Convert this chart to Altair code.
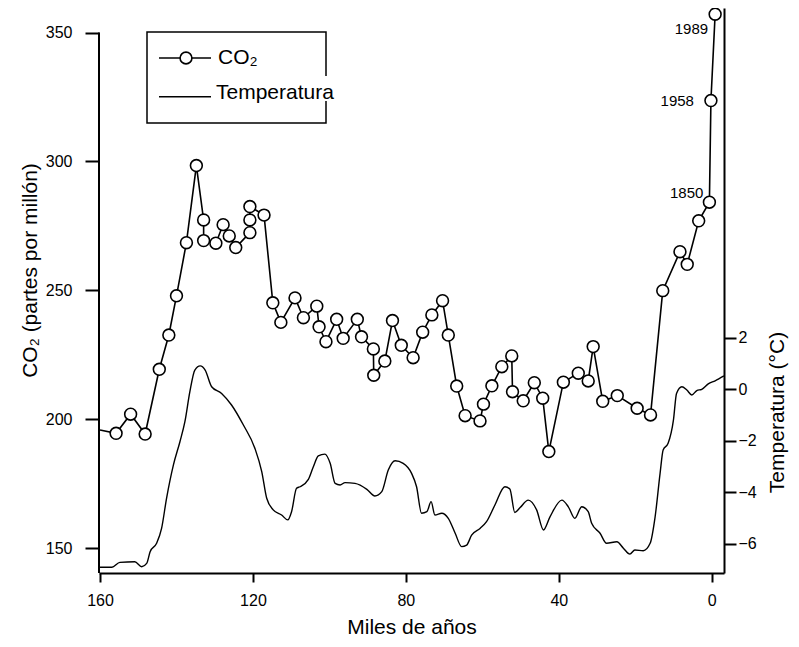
import altair as alt
import pandas as pd

# ---------------- data ----------------
co2_kyr = [160.0, 155.8, 152.0, 148.2, 144.5, 142.0, 140.0, 137.4, 134.8, 132.9,
           132.9, 129.7, 127.8, 126.2, 124.5, 120.8, 120.8, 120.8, 117.1, 114.8,
           112.7, 109.0, 106.8, 103.3, 102.7, 100.9, 98.1, 96.4, 92.7, 91.6,
           88.5, 88.4, 85.5, 83.5, 81.2, 78.1, 75.6, 73.2, 70.4, 68.9,
           66.7, 64.5, 60.6, 59.7, 57.5, 54.9, 52.3, 52.1, 49.3, 46.4,
           44.2, 42.6, 38.8, 34.9, 32.3, 31.0, 28.5, 24.7, 19.5, 16.0,
           12.8, 8.3, 6.4, 3.4, 0.6, 0.2, -0.9]
co2_ppm = [195.9, 194.6, 202.0, 194.3, 219.4, 232.7, 247.9, 268.5, 298.4, 277.3,
           269.3, 268.3, 275.5, 271.1, 266.6, 272.4, 277.3, 282.5, 279.2, 245.2,
           237.6, 247.1, 239.4, 243.9, 235.9, 230.1, 238.8, 231.4, 238.8, 232.0,
           227.3, 217.1, 222.6, 238.3, 228.7, 223.9, 233.8, 240.5, 246.0, 232.7,
           212.9, 201.4, 199.4, 205.9, 213.0, 220.4, 224.6, 210.7, 207.2, 214.2,
           208.2, 187.5, 214.4, 217.9, 214.9, 228.2, 207.0, 209.2, 204.3, 201.7,
           249.9, 265.0, 260.1, 277.0, 284.2, 323.6, 357.1]

temp_kyr = [160.0, 156.9, 154.8, 150.9, 149.1, 147.8, 146.9, 145.2, 143.9, 142.6,
            140.8, 139.1, 137.8, 136.5, 135.2, 133.8, 132.5, 130.8, 128.2, 125.6,
            122.5, 119.5, 117.7, 116.4, 114.7, 112.5, 110.9, 109.9, 108.6, 107.7,
            105.5, 104.2, 102.9, 101.2, 99.8, 98.5, 97.2, 95.9, 93.3, 90.2,
            88.1, 86.3, 84.6, 82.8, 80.7, 78.5, 77.2, 75.9, 74.5, 73.4,
            72.4, 70.6, 68.9, 67.1, 65.4, 64.1, 62.8, 60.6, 58.9, 56.7,
            54.1, 52.8, 51.5, 50.1, 48.0, 45.8, 44.0, 42.3, 39.2, 37.5,
            35.8, 34.0, 32.3, 31.4, 29.2, 27.5, 24.8, 23.1, 21.4, 20.1,
            17.9, 16.1, 14.8, 13.5, 12.7, 11.4, 10.0, 9.2, 7.8, 6.5,
            5.2, 3.9, 2.6, 0.9, -0.9, -3.2]
temp_c = [-6.92, -6.92, -6.73, -6.71, -6.90, -6.77, -6.32, -5.99, -5.41, -4.24,
          -2.94, -2.04, -1.26, -0.09, 0.75, 0.91, 0.75, 0.10, -0.16, -0.61,
          -1.39, -2.29, -3.20, -4.24, -4.69, -4.89, -5.08, -4.76, -3.85, -3.79,
          -3.50, -3.01, -2.59, -2.52, -2.88, -3.66, -3.72, -3.63, -3.66, -3.89,
          -4.15, -3.98, -3.14, -2.78, -2.88, -3.27, -3.79, -4.82, -4.76, -4.37,
          -4.89, -4.82, -5.02, -5.60, -6.12, -6.06, -5.67, -5.41, -5.15, -4.50,
          -3.79, -3.88, -4.79, -4.60, -4.31, -4.69, -5.47, -4.96, -4.31, -4.57,
          -5.02, -4.57, -4.76, -5.21, -5.60, -5.99, -5.93, -6.18, -6.41, -6.25,
          -6.28, -5.99, -4.96, -3.27, -2.36, -2.10, -1.19, -0.16, 0.10, -0.03,
          -0.22, -0.05, 0.00, 0.21, 0.33, 0.52]

ann_labels = ["1850", "1958", "1989"]
ann_kyr = [0.6, 0.2, -0.9]
ann_ppm = [284.2, 323.6, 357.1]

x_ticks = [0, 40, 80, 120, 160]
co2_ticks = [150, 200, 250, 300, 350]
temp_ticks = [-6, -4, -2, 0, 2]

co2 = pd.DataFrame({"kyr": co2_kyr, "ppm": co2_ppm, "i": list(range(len(co2_kyr)))})
temp = pd.DataFrame({"kyr": temp_kyr, "t": temp_c, "i": list(range(len(temp_kyr)))})
ann = pd.DataFrame({"kyr": ann_kyr, "ppm": ann_ppm, "label": ann_labels})
one = pd.DataFrame({"k": [0]})

FONT = "Liberation Sans"
W, H = 625, 565

x_scale = alt.Scale(domain=[-3.22, 160.27], reverse=True, nice=False, zero=False)
y_co2_scale = alt.Scale(domain=[140.42, 359.5], nice=False, zero=False)
y_t_scale = alt.Scale(domain=[-7.145, 14.83], nice=False, zero=False)

x_axis = alt.Axis(values=x_ticks, title="Miles de años", tickSize=9, labelPadding=10,
                  titleFontSize=21, titleY=60, titleBaseline="alphabetic", grid=False)
x_enc = alt.X("kyr:Q", scale=x_scale, axis=x_axis)

y_left_axis = alt.Axis(values=co2_ticks, title="CO₂ (partes por millón)", domain=False,
                       tickSize=14, labelPadding=13, titleFontSize=21, titleAngle=270,
                       titleX=-69, titleY=262, titleAlign="center", titleBaseline="middle",
                       grid=False)
y_co2 = alt.Y("ppm:Q", scale=y_co2_scale, axis=y_left_axis)

y_right_axis = alt.Axis(orient="right", values=temp_ticks, title="Temperatura (°C)",
                        tickSize=12, labelPadding=2, titleFontSize=21, titleAngle=270,
                        titleX=53, titleY=404, titleAlign="center", titleBaseline="middle",
                        grid=False)

# left axis line only up to 350
left_rule = alt.Chart(one).mark_rule(color="black", strokeWidth=2).encode(
    x=alt.value(0),
    y=alt.Y(datum=y_co2_scale.domain[0], scale=y_co2_scale, axis=y_left_axis),
    y2=alt.Y2(datum=350),
)

co2_line = alt.Chart(co2).mark_line(color="black", strokeWidth=1.6).encode(
    x=x_enc, y=y_co2, order="i:Q")

co2_pts = alt.Chart(co2).transform_filter(alt.datum.kyr < 159).mark_point(
    shape="circle", filled=True, fill="white", stroke="black", strokeWidth=1.6,
    size=140, opacity=1).encode(x=x_enc, y=y_co2)

ann_offsets = {"1850": (-6, -9), "1958": (-17, 0), "1989": (-7, 15)}
ann_layers = []
for lab in ann_labels:
    dx, dy = ann_offsets[lab]
    ann_layers.append(
        alt.Chart(ann).transform_filter(alt.datum.label == lab).mark_text(
            align="right", baseline="middle", dx=dx, dy=dy, fontSize=15, font=FONT,
            color="black").encode(x=x_enc, y=y_co2, text="label:N"))

# legend
leg_box = alt.Chart(one).mark_rect(filled=False, stroke="black", strokeWidth=1.5).encode(
    x=alt.value(48), x2=alt.value(227), y=alt.value(24), y2=alt.value(115))
leg_patch = alt.Chart(one).mark_rect(color="white").encode(
    x=alt.value(116), x2=alt.value(244), y=alt.value(68), y2=alt.value(93))
leg_r1 = alt.Chart(one).mark_rule(color="black", strokeWidth=1.6).encode(
    x=alt.value(60), x2=alt.value(112), y=alt.value(50))
leg_c1 = alt.Chart(one).mark_point(shape="circle", filled=True, fill="white", stroke="black",
                                   strokeWidth=1.6, size=140, opacity=1).encode(
    x=alt.value(87), y=alt.value(50))
leg_t1 = alt.Chart(one).mark_text(align="left", baseline="middle", fontSize=21, font=FONT,
                                  color="black").encode(
    x=alt.value(119), y=alt.value(50), text=alt.value("CO₂"))
leg_r2 = alt.Chart(one).mark_rule(color="black", strokeWidth=1.6).encode(
    x=alt.value(60), x2=alt.value(112), y=alt.value(88.7))
leg_t2 = alt.Chart(one).mark_text(align="left", baseline="middle", fontSize=21, font=FONT,
                                  color="black").encode(
    x=alt.value(117), y=alt.value(85), text=alt.value("Temperatura"))

co2_group = alt.layer(left_rule, co2_line, co2_pts, *ann_layers,
                      leg_box, leg_patch, leg_r1, leg_c1, leg_t1, leg_r2, leg_t2)

temp_line = alt.Chart(temp).mark_line(color="black", strokeWidth=1.4,
                                      interpolate="monotone").encode(
    x=x_enc, y=alt.Y("t:Q", scale=y_t_scale, axis=y_right_axis), order="i:Q")

chart = alt.layer(co2_group, temp_line).resolve_scale(y="independent").properties(
    width=W, height=H,
    autosize=alt.AutoSizeParams(type="none"),
    padding={"left": 91, "top": 0, "right": 67, "bottom": 66},
).configure_axis(
    labelFont=FONT, titleFont=FONT, labelFontSize=16, labelColor="black",
    titleColor="black", titleFontWeight="normal", domainColor="black",
    tickColor="black", domainWidth=2, tickWidth=2,
).configure_view(stroke=None)

chart.save("out.html", embed_options={"renderer": "svg", "actions": False})
